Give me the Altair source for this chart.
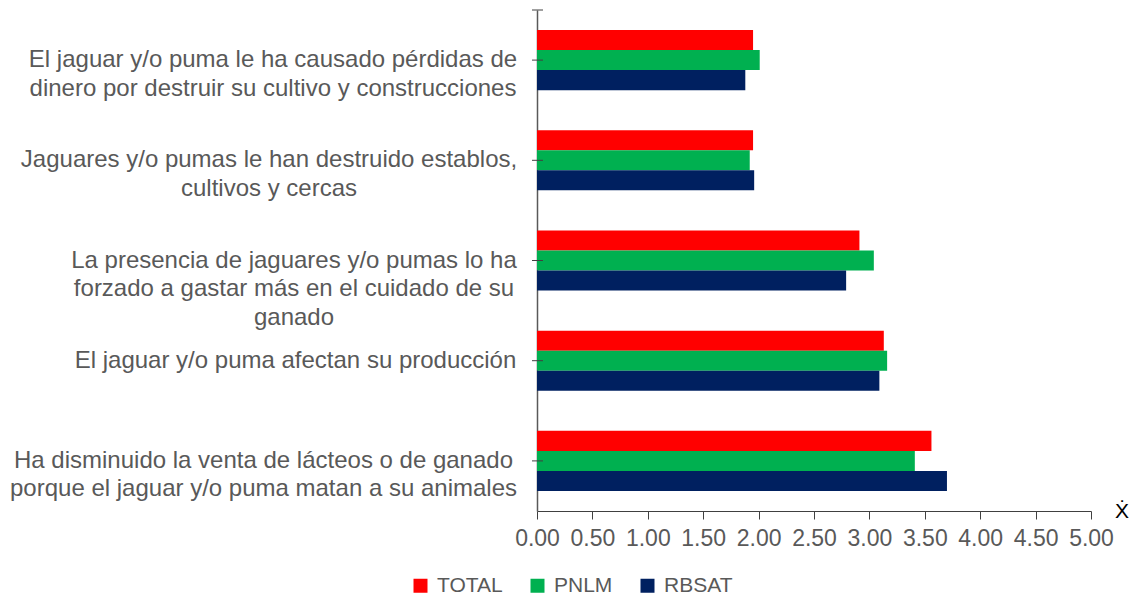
import altair as alt
import pandas as pd

categories = [
    "El jaguar y/o puma le ha causado pérdidas de|dinero por destruir su cultivo y construcciones",
    "Jaguares y/o pumas le han destruido establos,|cultivos y cercas",
    "La presencia de jaguares y/o pumas lo ha|forzado a gastar más en el cuidado de su|ganado",
    "El jaguar y/o puma afectan su producción",
    "Ha disminuido la venta de lácteos o de ganado|porque el jaguar y/o puma matan a su animales",
]
series = ["TOTAL", "PNLM", "RBSAT"]
total = [1.95, 1.95, 2.91, 3.13, 3.56]
pnlm = [2.01, 1.92, 3.04, 3.16, 3.41]
rbsat = [1.88, 1.96, 2.79, 3.09, 3.70]
colors = ["#FF0000", "#00B050", "#002060"]
x_ticks = [0, 0.5, 1, 1.5, 2, 2.5, 3, 3.5, 4, 4.5, 5]

# half of the widest line of each label (styling, for centred multi-line labels)
label_half_width = [243.5, 247.5, 222.5, 221, 253]

rows = []
for s, vals in zip(series, [total, pnlm, rbsat]):
    for c, v in zip(categories, vals):
        rows.append({"cat": c, "serie": s, "valor": v})
df = pd.DataFrame(rows)
cats_df = pd.DataFrame({"cat": categories})

pad_expr = " : ".join(
    f"datum.value == '{c}' ? {21 + w}" for c, w in zip(categories, label_half_width)
) + " : 21"

FONT = "Liberation Sans"
GRAY = "#595959"

y_enc = alt.Y(
    "cat:N",
    sort=categories,
    scale=alt.Scale(paddingInner=0.4, paddingOuter=0.2),
    axis=alt.Axis(
        title=None,
        labelExpr="split(datum.label, '|')",
        labelAlign="center",
        labelBaseline="middle",
        labelPadding={"expr": pad_expr},
        labelFontSize=24,
        labelLineHeight=28.5,
        labelColor=GRAY,
        labelFont=FONT,
        labelLimit=0,
        ticks=False,
        domainColor=GRAY,
        domainWidth=1.5,
    ),
)

bars = alt.Chart(df).mark_bar().encode(
    x=alt.X(
        "valor:Q",
        scale=alt.Scale(domain=[0, 5], nice=False),
        axis=alt.Axis(
            values=x_ticks,
            format=".2f",
            title="Ẋ",
            titleX=584.5,
            titleY=6,
            titleAlign="center",
            titleBaseline="alphabetic",
            titleFontSize=21,
            titleFontWeight="normal",
            titleFont=FONT,
            titleColor="#000000",
            labelFontSize=23,
            labelFont=FONT,
            labelColor=GRAY,
            labelPadding=8,
            labelOverlap=False,
            labelFlush=False,
            tickSize=8,
            tickColor="#404040",
            domainColor="#404040",
            grid=False,
        ),
    ),
    y=y_enc,
    yOffset=alt.YOffset("serie:N", sort=series),
    color=alt.Color(
        "serie:N",
        sort=series,
        scale=alt.Scale(domain=series, range=colors),
        legend=alt.Legend(
            title=None,
            orient="none",
            direction="horizontal",
            legendX=-127,
            legendY=565,
            symbolType="square",
            symbolSize=196,
            symbolStrokeWidth=0,
            labelFontSize=21,
            labelFont=FONT,
            labelColor=GRAY,
            labelOffset=6,
            columnPadding=24,
            padding=0,
        ),
    ),
)

ticks = alt.Chart(cats_df).mark_rule(color="#404040", strokeWidth=1).encode(
    y=alt.Y("cat:N", sort=categories),
    x=alt.value(-5),
    x2=alt.value(6),
)

top_tick = alt.Chart(cats_df.head(1)).mark_rule(color="#404040", strokeWidth=1).encode(
    y=alt.value(0),
    x=alt.value(-5),
    x2=alt.value(6),
)

chart = (
    alt.layer(bars, ticks, top_tick)
    .properties(
        width=554,
        height=501,
        autosize=alt.AutoSizeParams(type="none"),
        padding={"left": 529, "top": 2, "right": 39, "bottom": 84},
    )
    .configure_view(stroke=None)
)

chart.save("out.html", embed_options={"renderer": "svg", "actions": False})
